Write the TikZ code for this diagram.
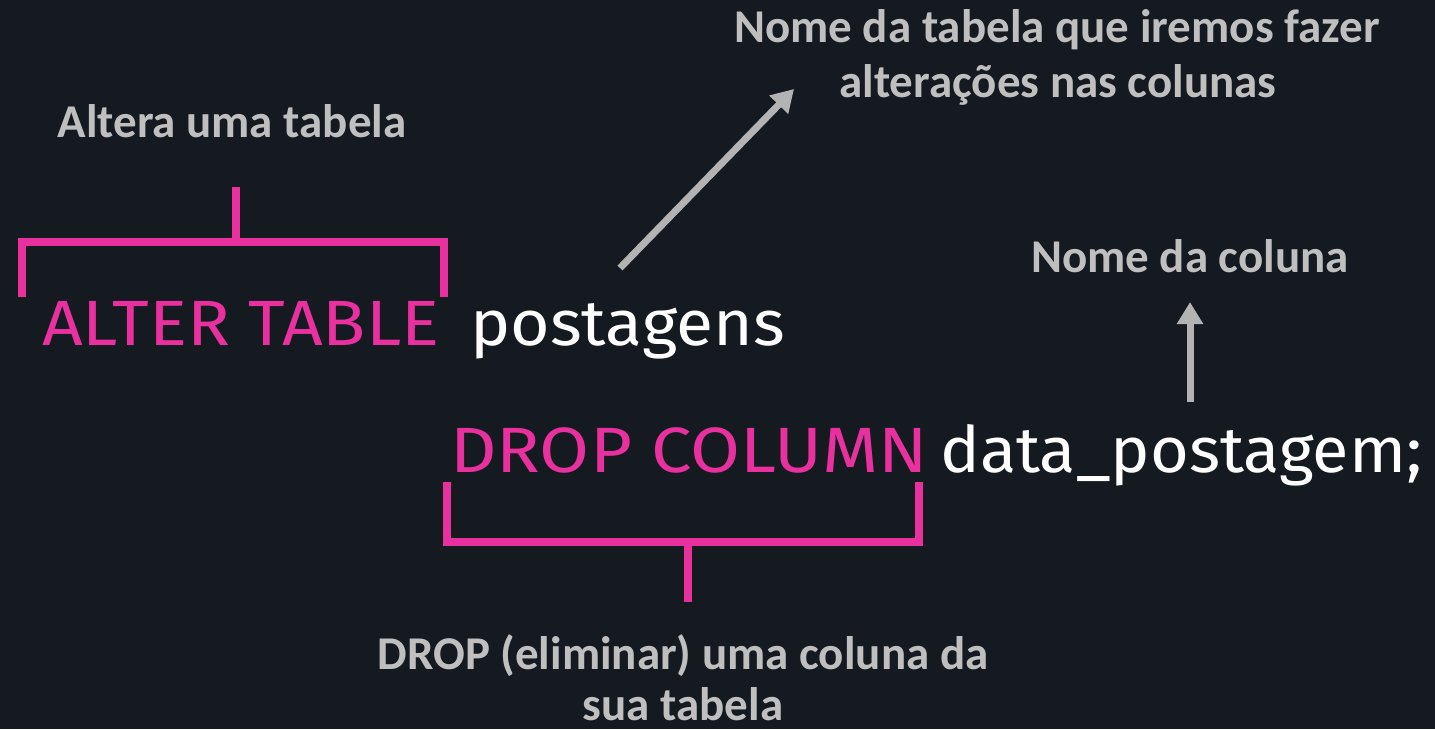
\documentclass[tikz,border=0pt]{standalone}
\usepackage{fontspec}
\setmainfont{Carlito}
\newfontfamily\codefont{Fira Sans}
\usetikzlibrary{arrows.meta}
\definecolor{bg}{HTML}{151920}
\definecolor{pinkc}{HTML}{E8309E}
\definecolor{lbl}{HTML}{BFBFBF}
\definecolor{arr}{HTML}{B3B3B3}
\tikzset{
  lab/.style={text=lbl, font=\fontsize{47}{55}\selectfont\bfseries, align=center, inner sep=0pt},
  kw/.style={text=pinkc, font=\fontsize{64}{70}\selectfont\codefont, anchor=base west, inner sep=0pt},
  idt/.style={text=white, font=\fontsize{64}{70}\selectfont\codefont, anchor=base west, inner sep=0pt},
  brk/.style={draw=pinkc, line width=8pt, line join=miter},
  garrow/.style={draw=arr, line width=7pt, -{Triangle[width=25pt,length=22pt]}}
}
\begin{document}
\begin{tikzpicture}[x=1pt,y=-1pt]
\fill[bg] (0,0) rectangle (1435,729);
\useasboundingbox (0,0) rectangle (1435,729);
% labels
\node[lab, anchor=base] (l1) at (232,137) {Altera uma tabela};
\node[lab, anchor=base] (l2a) at (1057,42) {Nome da tabela que iremos fazer};
\node[lab, anchor=base] (l2b) at (1058,97) {alterações nas colunas};
\node[lab, anchor=base] (l3) at (1190,272) {Nome da coluna};
\node[lab, anchor=base] (l4a) at (683,669) {DROP (eliminar) uma coluna da};
\node[lab, anchor=base] (l4b) at (683,720) {sua tabela};
% code
\node[kw] (k1) at (42,345) {\scalebox{1.11}[1]{ALTER TABLE}};
\node[idt] (i1) at (470,345) {\scalebox{1.06}[1]{postagens}};
\node[kw] (k2) at (450,472) {\scalebox{1.13}[1]{DROP COLUMN}};
\node[idt] (i2) at (940,472) {\scalebox{1.04}[1]{data\_postagem;}};
% bracket 1
\coordinate (b1a) at (22,297);
\coordinate (b1b) at (22,242);
\coordinate (b1c) at (444,242);
\coordinate (b1d) at (444,297);
\coordinate (b1s) at (235.5,187);
\coordinate (b1m) at (235.5,242);
\draw[brk] (b1a) -- (b1b) -- (b1c) -- (b1d);
\draw[brk] (b1s) -- (b1m);
% bracket 2
\coordinate (b2a) at (447,482);
\coordinate (b2b) at (447,542);
\coordinate (b2c) at (919,542);
\coordinate (b2d) at (919,482);
\coordinate (b2m) at (687.5,542);
\coordinate (b2s) at (687.5,602);
\draw[brk] (b2a) -- (b2b) -- (b2c) -- (b2d);
\draw[brk] (b2m) -- (b2s);
% arrows
\coordinate (a1s) at (620,268);
\coordinate (a1e) at (794,89);
\draw[garrow] (a1s) -- (a1e);
\coordinate (a2s) at (1190,402);
\coordinate (a2e) at (1190,302);
\draw[garrow] (a2s) -- (a2e);
\end{tikzpicture}
\end{document}
